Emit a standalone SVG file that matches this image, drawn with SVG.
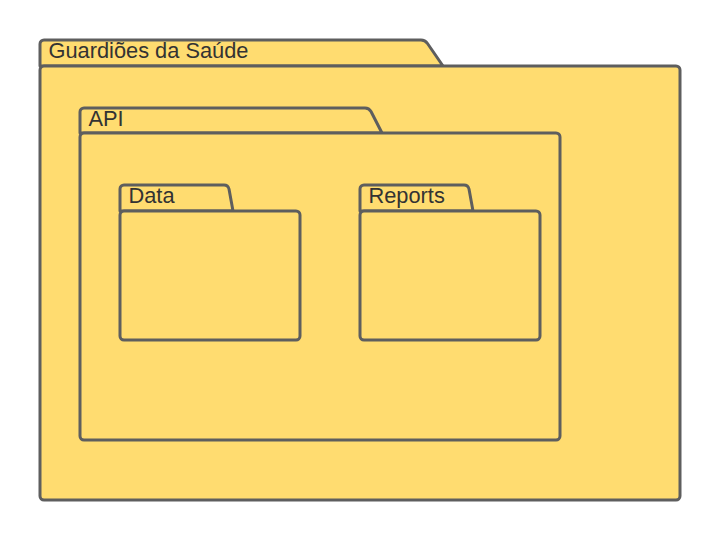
<svg xmlns="http://www.w3.org/2000/svg" width="720" height="540" viewBox="0 0 720 540">
<style>
.f{fill:#FFDC70;stroke:#5E5E5E;stroke-width:3;stroke-linejoin:round}
.t{font-family:"Liberation Sans",Arial,sans-serif;font-size:21.8px;fill:#333333}
</style>
<rect width="720" height="540" fill="#FFFFFF"/>
<g id="guardioes">
<path class="f" d="M40,66 V44 A4,4 0 0 1 44,40 H421 Q425,40 427.5,43.5 L443,66 Z"/>
<rect class="f" x="40" y="66" width="640" height="434" rx="4"/>
<text class="t" x="48.5" y="57.5">Guardiões da Saúde</text>
</g>
<g id="api">
<path class="f" d="M80,133 V112 A4,4 0 0 1 84,108 H365 Q369,108 371,111.5 L382,133 Z"/>
<rect class="f" x="80" y="133" width="480" height="307" rx="4"/>
<text class="t" x="88.5" y="125.5">API</text>
</g>
<g id="data">
<path class="f" d="M120,211 V189 A4,4 0 0 1 124,185 H224 Q228,185 229,189 L233,211 Z"/>
<rect class="f" x="120" y="211" width="180" height="129" rx="4"/>
<text class="t" x="128.5" y="202.5">Data</text>
</g>
<g id="reports">
<path class="f" d="M360,211 V189 A4,4 0 0 1 364,185 H464 Q468,185 469,189 L473,211 Z"/>
<rect class="f" x="360" y="211" width="180" height="129" rx="4"/>
<text class="t" x="368.5" y="202.5">Reports</text>
</g>
<g id="connectors"/>
</svg>
